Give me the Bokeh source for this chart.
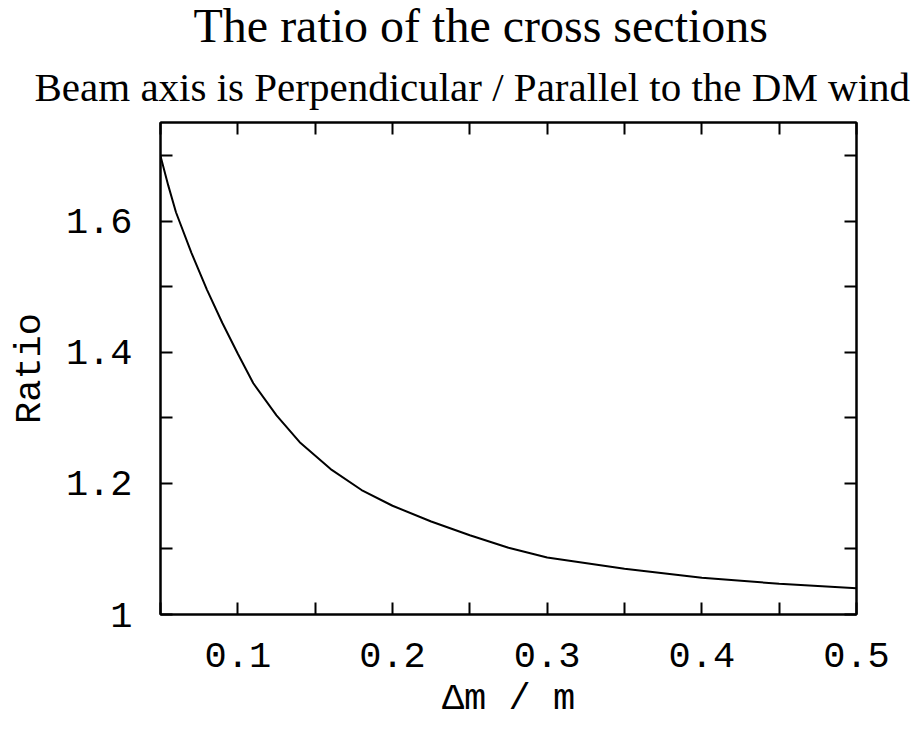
from bokeh.plotting import figure
from bokeh.models import Range1d, FixedTicker, LinearAxis, Title, ColumnDataSource
from bokeh.embed import file_html
from bokeh.resources import INLINE

# Ratio of cross sections versus relative mass splitting
delta_m_over_m = [0.05, 0.055, 0.06, 0.07, 0.08, 0.09, 0.10, 0.11, 0.125, 0.14,
                  0.16, 0.18, 0.20, 0.225, 0.25, 0.275, 0.30, 0.35, 0.40, 0.45, 0.50]
ratio = [1.700, 1.655, 1.614, 1.552, 1.496, 1.445, 1.398, 1.353, 1.304, 1.263,
         1.222, 1.190, 1.166, 1.142, 1.121, 1.102, 1.087, 1.070, 1.056, 1.047, 1.040]

x_ticks = [0.05, 0.1, 0.15, 0.2, 0.25, 0.3, 0.35, 0.4, 0.45, 0.5]
x_tick_labels = {0.1: "0.1", 0.2: "0.2", 0.3: "0.3", 0.4: "0.4", 0.5: "0.5"}
y_ticks = [1.0, 1.1, 1.2, 1.3, 1.4, 1.5, 1.6, 1.7]
y_tick_labels = {1.0: "1", 1.2: "1.2", 1.4: "1.4", 1.6: "1.6"}

title_text = "The ratio of the cross sections"
subtitle_text = "Beam axis is Perpendicular / Parallel to the DM wind"
x_label = "\u0394m / m"
y_label = "Ratio"

MONO = "Liberation Mono"
SERIF = "Liberation Serif"

p = figure(width=915, height=729, output_backend="svg", toolbar_location=None,
           x_range=Range1d(0.05, 0.5), y_range=Range1d(1.0, 1.751),
           min_border_left=160, min_border_right=59,
           min_border_top=122, min_border_bottom=115,
           x_axis_type=None, y_axis_type=None, title=None)

p.grid.visible = False
p.outline_line_color = "black"
p.outline_line_width = 2
p.background_fill_color = "white"
p.border_fill_color = "white"


def style_axis(ax, ticks, labels, show_labels):
    ax.ticker = FixedTicker(ticks=ticks)
    overrides = {}
    for t in ticks:
        overrides[t] = labels.get(round(t, 2), "") if show_labels else ""
    ax.major_label_overrides = overrides
    ax.major_tick_in = 12
    ax.major_tick_out = 0
    ax.minor_tick_in = 0
    ax.minor_tick_out = 0
    ax.major_tick_line_width = 2
    ax.major_tick_line_color = "black"
    ax.axis_line_width = 2
    ax.axis_line_color = "black"
    ax.major_label_text_font = MONO
    ax.major_label_text_font_size = "37px" if show_labels else "1px"
    ax.major_label_text_color = "black"
    ax.axis_label_text_font = MONO
    ax.axis_label_text_font_size = "37px"
    ax.axis_label_text_font_style = "normal"
    ax.axis_label_text_color = "black"


# frame axes: labelled bottom/left, tick-only top/right
xt = LinearAxis()
style_axis(xt, x_ticks, x_tick_labels, False)
xt.major_label_standoff = 0
p.add_layout(xt, "above")

yr = LinearAxis()
style_axis(yr, y_ticks, y_tick_labels, False)
yr.major_label_standoff = 0
p.add_layout(yr, "right")

xb = LinearAxis(axis_label=x_label)
style_axis(xb, x_ticks, x_tick_labels, True)
xb.major_label_standoff = 28
xb.axis_label_standoff = 8
p.add_layout(xb, "below")

yl = LinearAxis(axis_label=y_label)
style_axis(yl, y_ticks, y_tick_labels, True)
yl.major_label_standoff = 28
yl.axis_label_standoff = 12
p.add_layout(yl, "left")

# stacked headings above the frame, offsets measured from the frame's left edge
p.add_layout(Title(text=subtitle_text, text_font=SERIF, text_font_size="41px",
                   text_font_style="normal", text_color="black",
                   align="left", offset=-126, standoff=26), "above")
p.add_layout(Title(text=title_text, text_font=SERIF, text_font_size="48px",
                   text_font_style="normal", text_color="black",
                   align="left", offset=33, standoff=-7), "above")

src = ColumnDataSource(data=dict(x=delta_m_over_m, y=ratio))
p.line("x", "y", source=src, line_color="black", line_width=2)

open("out.html", "w").write(file_html(p, INLINE))
